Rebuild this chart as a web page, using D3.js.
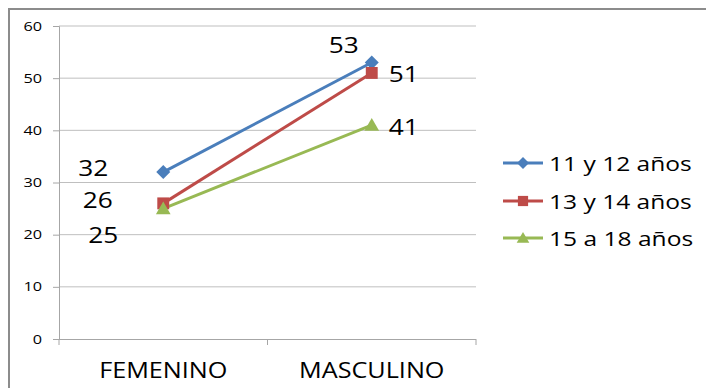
<!DOCTYPE html>
<html>
<head>
<meta charset="utf-8">
<script src="https://cdn.jsdelivr.net/npm/d3@7"></script>
<style>
  html, body { margin: 0; padding: 0; background: #fff; }
  svg { display: block; }
  text { font-family: "Open Sans", "DejaVu Sans", sans-serif; fill: #000; }
</style>
</head>
<body>
<script>
// Chart data
const categories = ["FEMENINO", "MASCULINO"];
const seriesNames = ["11 y 12 años", "13 y 14 años", "15 a 18 años"];
const valuesA = [32, 53];
const valuesB = [26, 51];
const valuesC = [25, 41];
const yTicks = [0, 10, 20, 30, 40, 50, 60];

const W = 706, H = 388;
const svg = d3.select("body").append("svg").attr("width", W).attr("height", H);

// Text drawn with a slightly wide horizontal stretch
function wideText(g, px, py, str, size, anchor, sx) {
  return g.append("text")
    .attr("transform", `translate(${px},${py}) scale(${sx},1)`)
    .attr("font-size", size).attr("text-anchor", anchor)
    .text(str);
}

// Frame (top and left edges visible)
svg.append("path")
  .attr("d", `M9,${H} L9,9 L${W},9`)
  .attr("fill", "none").attr("stroke", "#8c8c8c").attr("stroke-width", 2);

const plot = { left: 59, right: 476, top: 26, bottom: 339 };

const x = d3.scaleBand().domain(categories).range([plot.left, plot.right]);
const y = d3.scaleLinear().domain([0, 60]).range([plot.bottom, plot.top]);

// Horizontal gridlines
svg.append("g").selectAll("line").data(yTicks.filter(d => d > 0)).join("line")
  .attr("x1", plot.left).attr("x2", plot.right)
  .attr("y1", d => y(d)).attr("y2", d => y(d))
  .attr("stroke", "#bfbfbf").attr("stroke-width", 1);

// Y axis (line and ticks from d3, labels drawn stretched)
const yAxis = svg.append("g").attr("transform", `translate(${plot.left},0)`)
  .call(d3.axisLeft(y).tickValues(yTicks).tickSize(6).tickFormat(""));
yAxis.select(".domain").attr("stroke", "#a6a6a6");
yAxis.selectAll(".tick line").attr("stroke", "#a6a6a6");
const yLabels = svg.append("g");
yTicks.forEach(t => {
  wideText(yLabels, 42, y(t) + 4.5, t, 13, "end", 1.25).attr("fill", "#222");
});

// X axis with tick marks at category boundaries
const xAxisG = svg.append("g").attr("transform", `translate(0,${plot.bottom})`);
xAxisG.append("line").attr("x1", plot.left).attr("x2", plot.right)
  .attr("y1", 0.5).attr("y2", 0.5).attr("stroke", "#a6a6a6");
const bounds = categories.map(c => x(c)).concat([x(categories[categories.length - 1]) + x.bandwidth()]);
xAxisG.selectAll("line.tk").data(bounds).join("line").attr("class", "tk")
  .attr("x1", d => d).attr("x2", d => d).attr("y1", 0).attr("y2", 6)
  .attr("stroke", "#a6a6a6");
categories.forEach(c => {
  wideText(xAxisG, x(c) + x.bandwidth() / 2, 39, c, 21, "middle", 1.2);
});

const colors = ["#4a7ebb", "#be4b48", "#98b954"];
const allValues = [valuesA, valuesB, valuesC];
const cx = c => x(c) + x.bandwidth() / 2;

const line = d3.line().x((d, i) => cx(categories[i])).y(d => y(d));

function drawMarker(g, k, px, py, s) {
  if (k === 0) {
    g.append("path").attr("d", `M${px},${py - s} L${px + s},${py} L${px},${py + s} L${px - s},${py} Z`)
      .attr("fill", colors[k]);
  } else if (k === 1) {
    g.append("rect").attr("x", px - s * 0.85).attr("y", py - s * 0.85)
      .attr("width", s * 1.7).attr("height", s * 1.7).attr("fill", colors[k]);
  } else {
    g.append("path").attr("d", `M${px},${py - s} L${px + s * 1.05},${py + s * 0.8} L${px - s * 1.05},${py + s * 0.8} Z`)
      .attr("fill", colors[k]);
  }
}

const series = svg.append("g");
allValues.forEach((vals, k) => {
  series.append("path").datum(vals).attr("d", line)
    .attr("fill", "none").attr("stroke", colors[k]).attr("stroke-width", 3);
});
allValues.forEach((vals, k) => {
  vals.forEach((v, i) => drawMarker(series, k, cx(categories[i]), y(v), 7));
});

// Data labels
const labelPos = [
  [{ dx: -70, dy: 4 }, { dx: -28, dy: -9.5 }],
  [{ dx: -65.5, dy: 5 }, { dx: 32, dy: 9 }],
  [{ dx: -60, dy: 34 }, { dx: 32, dy: 10 }]
];
const labels = svg.append("g");
allValues.forEach((vals, k) => {
  vals.forEach((v, i) => {
    wideText(labels, cx(categories[i]) + labelPos[k][i].dx, y(v) + labelPos[k][i].dy,
      v, 21, "middle", 1.25);
  });
});

// Legend
const legend = svg.append("g");
const legendY = [163, 201, 238];
seriesNames.forEach((name, k) => {
  const ly = legendY[k];
  legend.append("line").attr("x1", 503).attr("x2", 543).attr("y1", ly).attr("y2", ly)
    .attr("stroke", colors[k]).attr("stroke-width", 3);
  drawMarker(legend, k, 523, ly, 6);
  wideText(legend, 549, ly + 7.5, name, 19.5, "start", 1.26);
});
</script>
</body>
</html>
